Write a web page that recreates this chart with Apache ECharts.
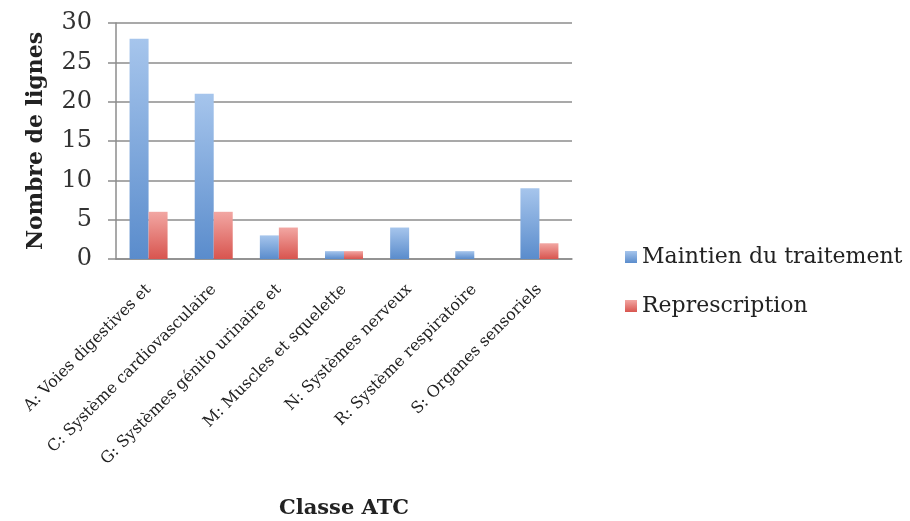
<!DOCTYPE html>
<html>
<head>
<meta charset="utf-8">
<script src="https://cdn.jsdelivr.net/npm/echarts@6/dist/echarts.min.js"></script>
<style>
  html, body { margin: 0; padding: 0; background: #fff; }
  #chart { width: 910px; height: 521px; }
</style>
</head>
<body>
<div id="chart"></div>
<script>
const categories = [
  "A: Voies digestives et",
  "C: Système cardiovasculaire",
  "G: Systèmes génito urinaire et",
  "M: Muscles et squelette",
  "N: Systèmes nerveux",
  "R: Système respiratoire",
  "S: Organes sensoriels"
];
const maintien = [28, 21, 3, 1, 4, 1, 9];
const represcription = [6, 6, 4, 1, 0, 0, 2];
const seriesNames = ["Maintien du traitement", "Represcription"];

const serif = "'DejaVu Serif', 'Liberation Serif', serif";

function grad(top, bottom) {
  return {
    type: "linear", x: 0, y: 0, x2: 0, y2: 1,
    colorStops: [{ offset: 0, color: top }, { offset: 1, color: bottom }]
  };
}

const chart = echarts.init(document.getElementById("chart"));
chart.setOption({
  animation: false,
  backgroundColor: "#fff",
  grid: { left: 116, right: 338, top: 23, bottom: 262 },
  legend: {
    orient: "vertical",
    left: 620,
    top: 241,
    itemGap: 27,
    itemWidth: 12,
    itemHeight: 12,
    icon: "rect",
    textStyle: { fontFamily: serif, fontSize: 22, color: "#222" },
    data: seriesNames
  },
  xAxis: {
    type: "category",
    data: categories,
    name: "Classe ATC",
    nameLocation: "middle",
    nameGap: 239,
    nameTextStyle: { fontFamily: serif, fontSize: 21, fontWeight: "bold", color: "#222" },
    axisLine: { lineStyle: { color: "#8c8c8c", width: 1.5 } },
    axisTick: { show: false },
    axisLabel: {
      interval: 0,
      rotate: 45,
      margin: 28,
      fontFamily: serif,
      fontSize: 16,
      color: "#222"
    }
  },
  yAxis: {
    type: "value",
    min: 0,
    max: 30,
    interval: 5,
    name: "Nombre de lignes",
    nameLocation: "middle",
    nameRotate: 90,
    nameGap: 69,
    nameTextStyle: { fontFamily: serif, fontSize: 22, fontWeight: "bold", color: "#222" },
    axisLine: { show: true, lineStyle: { color: "#8c8c8c", width: 1.5 } },
    axisTick: { show: true, length: 8, lineStyle: { color: "#8c8c8c", width: 1.5 } },
    axisLabel: { margin: 24, fontFamily: serif, fontSize: 24, color: "#333" },
    splitLine: { lineStyle: { color: "#8c8c8c", width: 1.5 } }
  },
  series: [
    {
      name: seriesNames[0],
      type: "bar",
      data: maintien,
      barWidth: 19,
      barGap: "0%",
      itemStyle: { color: grad("#a6c5ec", "#5a8ccc") }
    },
    {
      name: seriesNames[1],
      type: "bar",
      data: represcription,
      barWidth: 19,
      itemStyle: { color: grad("#f2a7a3", "#d8554f") }
    }
  ]
});
</script>
</body>
</html>
